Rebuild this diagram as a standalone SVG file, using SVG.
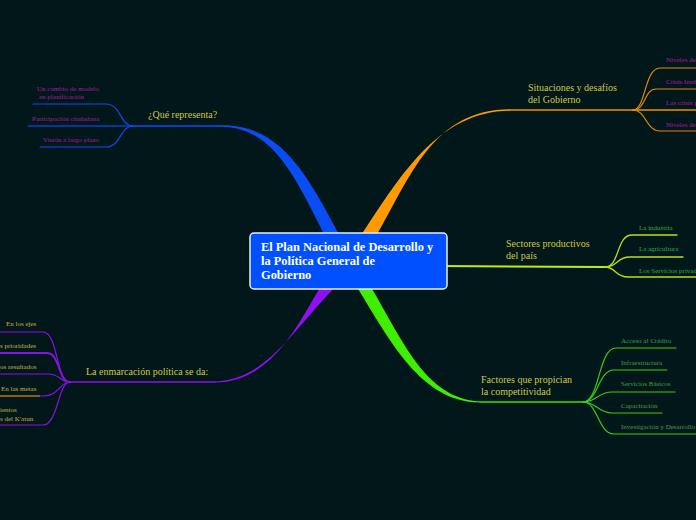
<svg xmlns="http://www.w3.org/2000/svg" width="696" height="520" viewBox="0 0 696 520">
<style>
.bg{fill:#021719}
.ln{fill:none;stroke-linecap:round}
.main{font-family:"Liberation Serif",serif;font-size:10px;fill:#cfc846}
.sub{font-family:"Liberation Serif",serif;font-size:7px}
.mag{fill:#a21ba2}
.grn{fill:#22b04c}
.grn2{fill:#3fa052}
.tan{fill:#c8b24c}
.ctr{font-family:"Liberation Serif",serif;font-size:12.4px;font-weight:bold;fill:#ffffff}
</style>
<rect class="bg" x="0" y="0" width="696" height="520"/>
<g id="connectors">
  <!-- blue -->
  <path d="M327 240 C296 179,274 127.7,222 126.7 L222 125.3 C282 125.3,308 176,342 240 Z" fill="#0a4df5"/>
  <path class="ln" d="M222 126 L133 126" stroke="#0a4df5" stroke-width="1.3"/>
  <path class="ln" d="M133 126 C120 126,121 104,106 104 L33 104" stroke="#0a4df5" stroke-width="1.2"/>
  <path class="ln" d="M133 126 L28 126" stroke="#0a3fc0" stroke-width="1.6"/>
  <path class="ln" d="M133 126 C120 126,121 147,106 147 L40 147" stroke="#0a4df5" stroke-width="1.2"/>
  <!-- orange -->
  <path d="M358 240 C399 178,437 111.3,510 110.7 L510 109.3 C433 109.7,411 176,374 240 Z" fill="#ff9a00"/>
  <path class="ln" d="M510 110 L633 110" stroke="#f09000" stroke-width="1.4"/>
  <path class="ln" d="M633 110 C646 110,644 68,660 68 L696 68" stroke="#e08a10" stroke-width="1.2"/>
  <path class="ln" d="M633 110 C646 110,644 89,656 89 L696 89" stroke="#e08a10" stroke-width="1.2"/>
  <path class="ln" d="M633 110 L696 110" stroke="#f09000" stroke-width="1.4"/>
  <path class="ln" d="M633 110 C646 110,646 131,660 131 L696 131" stroke="#e08a10" stroke-width="1.2"/>
  <!-- yellow-green -->
  <path class="ln" d="M440 266 L605 267" stroke="#c2ec10" stroke-width="2"/>
  <path class="ln" d="M605 267 C620 267,616 235,632 235 L677 235" stroke="#b9e010" stroke-width="1.3"/>
  <path class="ln" d="M605 267 C618 267,616 257,630 257 L683 257" stroke="#b9e010" stroke-width="1.3"/>
  <path class="ln" d="M605 267 C616 267,615 277,628 277 L696 277" stroke="#b9e010" stroke-width="1.3"/>
  <!-- green -->
  <path d="M355 284 C390 340,420 401.8,480 402.6 L480 401.4 C424 399,401 336,369 284 Z" fill="#3ef000"/>
  <path class="ln" d="M480 402 L583 402" stroke="#3ee000" stroke-width="1.4"/>
  <path class="ln" d="M583 402 C600 402,598 348,616 348 L676 348" stroke="#38d010" stroke-width="1.2"/>
  <path class="ln" d="M583 402 C598 402,598 370,614 370 L667 370" stroke="#38d010" stroke-width="1.2"/>
  <path class="ln" d="M583 402 C596 402,598 392,612 392 L675 392" stroke="#38d010" stroke-width="1.2"/>
  <path class="ln" d="M583 402 C596 402,598 413,612 413 L662 413" stroke="#38d010" stroke-width="1.2"/>
  <path class="ln" d="M583 402 C598 402,598 434,614 434 L696 434" stroke="#38d010" stroke-width="1.2"/>
  <!-- purple -->
  <path d="M322 284 C297 326,272 381.6,215 382.6 L215 381.4 C267 379,291 332,338 284 Z" fill="#8f10f0"/>
  <path class="ln" d="M215 382 L70 382" stroke="#8a10e8" stroke-width="1.5"/>
  <path class="ln" d="M70 382 C56 382,58 332,43 332 L0 332" stroke="#8a10e8" stroke-width="1.2"/>
  <path class="ln" d="M70 382 C58 382,60 353,47 353 L0 353" stroke="#8a10e8" stroke-width="1.8"/>
  <path class="ln" d="M70 382 C60 382,60 374,48 374 L0 374" stroke="#8a10e8" stroke-width="1.2"/>
  <path class="ln" d="M70 382 C60 382,58 396,44 396 L40 396" stroke="#8a10e8" stroke-width="1.2"/>
  <path d="M0 396 L40 396" fill="none" stroke="#8a5a18" stroke-width="2.2"/>
  <path class="ln" d="M70 382 C58 382,58 425,43 425 L0 425" stroke="#8a10e8" stroke-width="1.2"/>
</g>
<g id="center">
  <rect x="250" y="233" width="197" height="56" rx="4" fill="#0050ff" stroke="#e8eef8" stroke-width="1.5"/>
  <text class="ctr" x="261" y="251">El Plan Nacional de Desarrollo y</text>
  <text class="ctr" x="261" y="265">la Política General de</text>
  <text class="ctr" x="261" y="279">Gobierno</text>
</g>
<g id="que-representa">
  <text class="main" x="148" y="118">¿Qué representa?</text>
  <text class="sub mag" x="37" y="91">Un cambio de modelo</text>
  <text class="sub mag" x="39" y="99">en planificación</text>
  <text class="sub mag" x="32" y="121">Participación ciudadana</text>
  <text class="sub mag" x="43" y="142">Visión a largo plazo</text>
</g>
<g id="situaciones">
  <text class="main" x="528" y="91">Situaciones y desafíos</text>
  <text class="main" x="528" y="103">del Gobierno</text>
  <text class="sub mag" x="666" y="62">Niveles de</text>
  <text class="sub mag" x="666" y="84">Crisis Insti</text>
  <text class="sub mag" x="666" y="105">Las crisis p</text>
  <text class="sub mag" x="666" y="127">Niveles de</text>
</g>
<g id="sectores">
  <text class="main" x="506" y="247">Sectores productivos</text>
  <text class="main" x="506" y="259">del país</text>
  <text class="sub grn" x="639" y="230">La industria</text>
  <text class="sub grn" x="639" y="251">La agricultura</text>
  <text class="sub grn" x="639" y="273">Los Servicios privad</text>
</g>
<g id="factores">
  <text class="main" x="481" y="383">Factores que propician</text>
  <text class="main" x="481" y="395">la competitividad</text>
  <text class="sub grn2" x="621" y="343">Acceso al Crédito</text>
  <text class="sub grn2" x="621" y="365">Infraestructura</text>
  <text class="sub grn2" x="621" y="386">Servicios Básicos</text>
  <text class="sub grn2" x="621" y="408">Capacitación</text>
  <text class="sub grn2" x="621" y="429">Investigación y Desarrollo</text>
</g>
<g id="enmarcacion">
  <text class="main" x="86" y="375">La enmarcación política se da:</text>
  <text class="sub tan" x="6" y="326">En los ejes</text>
  <text class="sub tan" x="0" y="348">s prioridades</text>
  <text class="sub tan" x="0" y="369">os resultados</text>
  <text class="sub tan" x="1" y="391">En las metas</text>
  <text class="sub tan" x="0" y="412">ientos</text>
  <text class="sub tan" x="0" y="421">s del K'atun</text>
</g>
</svg>
